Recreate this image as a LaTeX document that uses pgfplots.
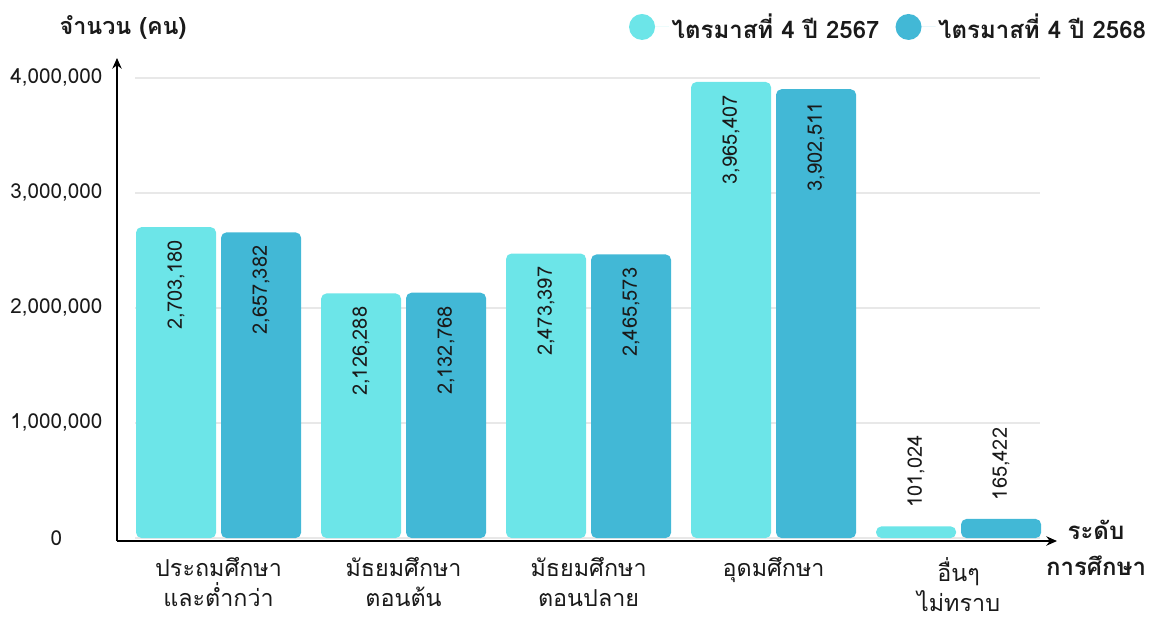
\documentclass[border=0pt]{standalone}
\usepackage{pgfplots}
\pgfplotsset{compat=1.18}
\usepackage{pgfplotstable}
\usepackage{fontspec}
\setmainfont[Script=Thai]{Loma}
\usetikzlibrary{arrows.meta}
\definecolor{cA}{HTML}{6CE5E8}
\definecolor{cB}{HTML}{42B8D6}
\definecolor{gridc}{HTML}{E8E8E8}
\definecolor{txt}{HTML}{1A1A1A}

\pgfplotstableread{
x y lab
-0.2297 2703180 2,703,180
0.7703 2126288 2,126,288
1.7703 2473397 2,473,397
2.7703 3965407 3,965,407
}\mainA
\pgfplotstableread{
x y lab
3.7703 101024 101,024
}\lowA
\pgfplotstableread{
x y lab
0.2297 2657382 2,657,382
1.2297 2132768 2,132,768
2.2297 2465573 2,465,573
3.2297 3902511 3,902,511
}\mainB
\pgfplotstableread{
x y lab
4.2297 165422 165,422
}\lowB

\begin{document}
\begin{tikzpicture}[x=0.75pt,y=-0.75pt]
\useasboundingbox (0,0) rectangle (1156,622);
\begin{axis}[
  at={(87.75pt,-405.75pt)}, anchor=south west,
  scale only axis, width=705pt, height=362.25pt,
  xmin=-0.549, xmax=4.532, ymin=-26087, ymax=4174000,
  axis x line=bottom, axis y line=left,
  axis line style={line width=1.5pt, -{Stealth[length=8pt,width=7pt]}},
  major tick length=0pt,
  xtick={0,1,2,3,4},
  xticklabels={{ประถมศึกษา\\และต่ำกว่า},{มัธยมศึกษา\\ตอนต้น},{มัธยมศึกษา\\ตอนปลาย},{อุดมศึกษา},{อื่นๆ\\ไม่ทราบ}},
  xticklabel style={align=center, anchor=north, yshift=-11pt, inner sep=1pt, font=\fontsize{17.5}{22.5}\selectfont, text=txt},
  ytick={0,1000000,2000000,3000000,4000000},
  yticklabels={0,{1,000,000},{2,000,000},{3,000,000},{4,000,000}},
  yticklabel style={anchor=center, xshift=-45.5pt, font=\fontsize{15.5}{17}\selectfont, text=txt},
  scaled y ticks=false,
  clip=false,
  legend columns=2,
  legend style={at={(rel axis cs:1.1021,1.1035)}, anchor=north east, draw=none, fill=none,
    font=\bfseries\fontsize{18}{20}\selectfont, text=txt,
    /tikz/every even column/.append style={column sep=10pt}},
  legend image code/.code={\fill[#1, draw=none] (9.75pt,0pt) circle (9.75pt); \path (0pt,0pt) -- (30pt,0pt);},
  point meta=explicit symbolic,
]
\addplot[gridc, line width=0.8pt, forget plot] coordinates {(-0.451,0) (4.441,0)};
\addplot[gridc, line width=0.8pt, forget plot] coordinates {(-0.451,1000000) (4.441,1000000)};
\addplot[gridc, line width=0.8pt, forget plot] coordinates {(-0.451,2000000) (4.441,2000000)};
\addplot[gridc, line width=0.8pt, forget plot] coordinates {(-0.451,3000000) (4.441,3000000)};
\addplot[gridc, line width=0.8pt, forget plot] coordinates {(-0.451,4000000) (4.441,4000000)};

\addplot[ybar, bar width=0.4324, bar shift=0, fill=cA, draw=none, rounded corners=4pt,
  nodes near coords, nodes near coords style={rotate=90, anchor=east, inner xsep=9.75pt, font=\fontsize{15}{17}\selectfont, text=txt}]
  table[x=x, y=y, meta=lab] {\mainA};
\addlegendentry{ไตรมาสที่ 4 ปี 2567}
\addplot[ybar, bar width=0.4324, bar shift=0, fill=cB, draw=none, rounded corners=4pt,
  nodes near coords, nodes near coords style={rotate=90, anchor=east, inner xsep=9.75pt, font=\fontsize{15}{17}\selectfont, text=txt}]
  table[x=x, y=y, meta=lab] {\mainB};
\addlegendentry{ไตรมาสที่ 4 ปี 2568}
\addplot[ybar, forget plot, bar width=0.4324, bar shift=0, fill=cA, draw=none, rounded corners=4pt,
  nodes near coords, nodes near coords style={rotate=90, anchor=west, inner xsep=14pt, font=\fontsize{15}{17}\selectfont, text=txt}]
  table[x=x, y=y, meta=lab] {\lowA};
\addplot[ybar, forget plot, bar width=0.4324, bar shift=0, fill=cB, draw=none, rounded corners=4pt,
  nodes near coords, nodes near coords style={rotate=90, anchor=west, inner xsep=14pt, font=\fontsize{15}{17}\selectfont, text=txt}]
  table[x=x, y=y, meta=lab] {\lowB};
\end{axis}
\node[font=\bfseries\fontsize{17.5}{20}\selectfont, text=txt] at (123,27) {จำนวน (คน)};
\node[font=\bfseries\fontsize{18}{27}\selectfont, text=txt, align=center] at (1096,548) {ระดับ\\การศึกษา};
\end{tikzpicture}
\end{document}
